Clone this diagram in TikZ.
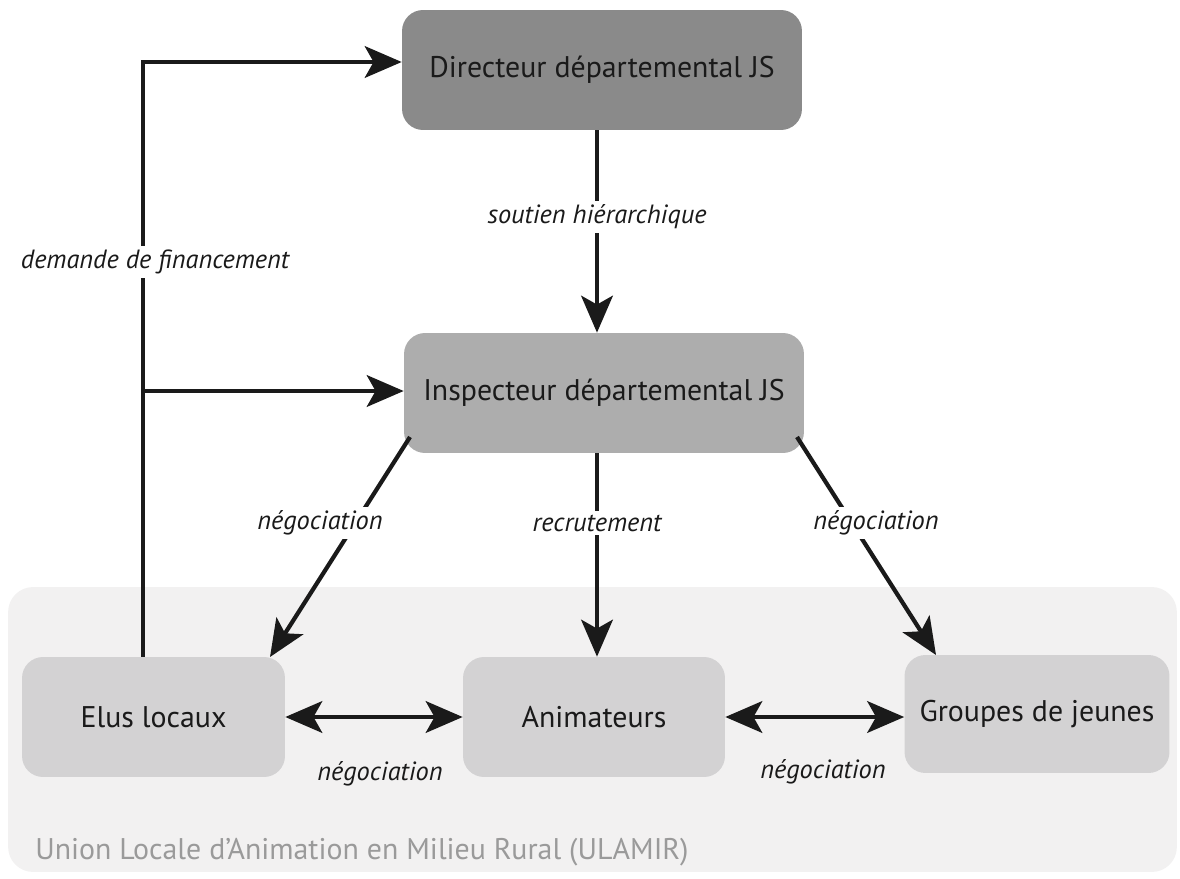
\documentclass[tikz,border=0pt]{standalone}
\usepackage{fontspec}
\setmainfont{PT Sans}
\usetikzlibrary{arrows.meta,calc}
\definecolor{txt}{HTML}{1A1A1A}
\definecolor{dirfill}{HTML}{8A8A8A}
\definecolor{inspfill}{HTML}{ADADAD}
\definecolor{lowfill}{HTML}{D3D2D3}
\definecolor{regfill}{HTML}{F2F1F1}
\definecolor{regtxt}{HTML}{9A9A9A}
\tikzset{
  box/.style={rounded corners=0.42cm, minimum width=8cm, minimum height=2.4cm, inner sep=0pt, text=txt, font=\fontsize{17}{20}\selectfont},
  lowbox/.style={box, fill=lowfill, minimum width=5.26cm},
  region/.style={rounded corners=0.5cm, fill=regfill, inner sep=0pt},
  conn/.style={line width=2.4pt, draw=txt},
  arr/.style={conn, -{Stealth[length=21pt,width=18pt,inset=5pt]}},
  dblarr/.style={conn, {Stealth[length=21pt,width=18pt,inset=5pt]}-{Stealth[length=21pt,width=18pt,inset=5pt]}},
  lbl/.style={font=\fontsize{15}{18}\selectfont\itshape, text=txt, inner sep=2pt},
  gaplbl/.style={lbl, fill=white}
}
\begin{document}
\begin{tikzpicture}[x=0.02cm,y=-0.02cm]
\useasboundingbox (0,0) rectangle (1180,879);
% region
\node[region, minimum width=23.38cm, minimum height=5.7cm] (ulamir) at (592.5,729.5) {};
\node[anchor=west, text=regtxt, font=\fontsize{17}{20}\selectfont, inner sep=0pt] (ulamirlbl) at (35,852) {Union Locale d’Animation en Milieu Rural (ULAMIR)};
% boxes
\node[box, fill=dirfill] (dir) at (602,70) {Directeur départemental JS};
\node[box, fill=inspfill] (insp) at (604,393) {Inspecteur départemental JS};
\node[lowbox] (elus) at (153.5,717) {Elus locaux};
\node[lowbox, minimum width=5.24cm] (anim) at (594,717) {Animateurs};
\node[lowbox, minimum width=5.3cm, minimum height=2.36cm] (grp) at (1037,714) {Groupes de jeunes};
% coordinates
\coordinate (lt) at (143,62);
\coordinate (lm) at (143,391);
\coordinate (ds) at (597,130);
\coordinate (dl) at (597,453);
\coordinate (ilow) at (410,437);
\coordinate (irow) at (797,437);
\coordinate (etr) at (270,657);
\coordinate (gtl) at (936,655);
% connectors
\draw[arr] (elus.north -| lt) -- (lt) -- (lt -| dir.west);
\draw[arr] (lm) -- (lm -| insp.west);
\draw[arr] (ds) -- (ds |- insp.north);
\draw[arr] (dl) -- (dl |- anim.north);
\draw[arr] (ilow) -- (etr);
\draw[arr] (irow) -- (gtl);
\draw[dblarr] (elus.east) -- (anim.west);
\draw[dblarr] (anim.east) -- (anim.east -| grp.west);
% labels
\node[gaplbl] (l1) at (597,217) {soutien hiérarchique};
\node[gaplbl] (l2) at (155,262) {demande de financement};
\node[gaplbl] (l3) at (320,523) {négociation};
\node[gaplbl] (l4) at (597,523) {recrutement};
\node[gaplbl] (l5) at (876,523) {négociation};
\node[lbl] (l6) at (380,774) {négociation};
\node[lbl] (l7) at (823,772) {négociation};
\end{tikzpicture}
\end{document}
